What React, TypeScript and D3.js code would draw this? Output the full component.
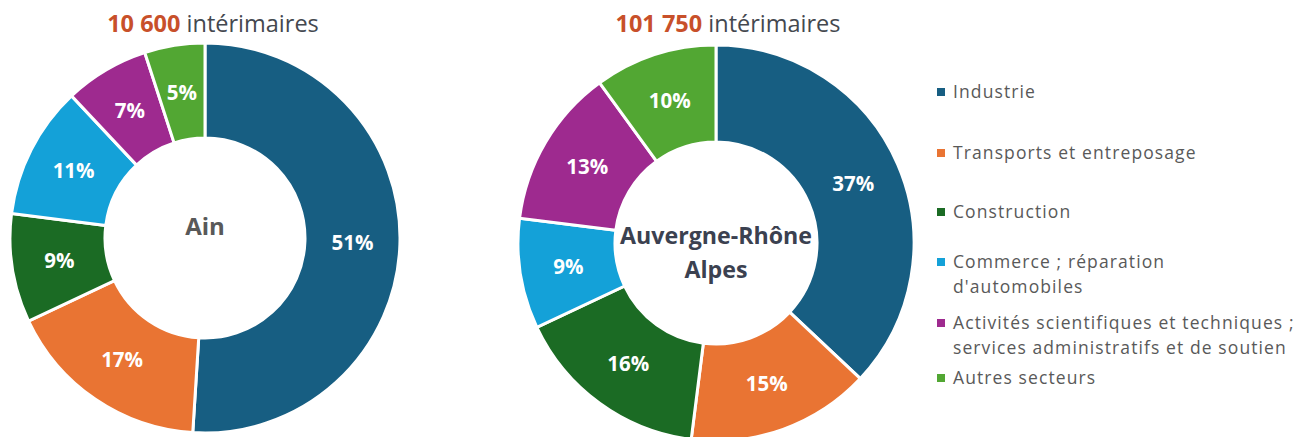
import React from "react";
import * as d3 from "d3";

// secteurs, dans l'ordre du graphique
const categories = [
    "Industrie",
    "Transports et entreposage",
    "Construction",
    "Commerce ; réparation d'automobiles",
    "Activités scientifiques et techniques ; services administratifs et de soutien",
    "Autres secteurs",
];
// lignes de la légende (coupure comme dans l'original)
const legendLines = [
    ["Industrie"],
    ["Transports et entreposage"],
    ["Construction"],
    ["Commerce ; réparation", "d'automobiles"],
    ["Activités scientifiques et techniques ;", "services administratifs et de soutien"],
    ["Autres secteurs"],
];
const colors = ["#175e82", "#e97433", "#1b6b24", "#14a1d8", "#9e2a8f", "#52a733"];

const ainValues = [51, 17, 9, 11, 7, 5];
const araValues = [37, 15, 16, 9, 13, 10];

const totals = ["10 600", "101 750"];
const centerLabels = [["Ain"], ["Auvergne-Rhône", "Alpes"]];

const FONT = "'Open Sans', 'Noto Sans', sans-serif";

type DonutProps = {
    values: number[]
    cx: number
    cy: number
    r: number
    r0: number
    total: string
    center: string[]
    centerColor: string
    centerY: number[]
    centerSize: number
    titleX: number
}

const Donut = ({values, cx, cy, r, r0, total, center, centerColor, centerY, centerSize, titleX}: DonutProps) => {
    const pie = d3.pie<number>().sort(null).value(d => d)
    const arcs = pie(values)
    const arc = d3.arc<d3.PieArcDatum<number>>().innerRadius(r0).outerRadius(r)
    const labelArc = d3.arc<d3.PieArcDatum<number>>().innerRadius((r + r0) / 2).outerRadius((r + r0) / 2)

    return (
        <g>
            <text x={titleX} y={32} textAnchor="middle" fontFamily={FONT} fontSize={23.5}>
                <tspan fill="#c8502a" fontWeight="bold">{total}</tspan>
                <tspan fill="#44484f"> intérimaires</tspan>
            </text>
            <g transform={`translate(${cx},${cy})`}>
                {arcs.map((a, i) => (
                    <path key={i} d={arc(a) as string} fill={colors[i]} stroke="#fff" strokeWidth={3}/>
                ))}
                {arcs.map((a, i) => {
                    const [x, y] = labelArc.centroid(a)
                    return (
                        <text key={"l" + i} x={x} y={y} dy="0.35em" textAnchor="middle" fill="#fff"
                              fontFamily={FONT} fontWeight="bold" fontSize={20.5}>
                            {values[i]}%
                        </text>
                    )
                })}
                {center.map((t, i) => (
                    <text key={"c" + i} x={0} y={centerY[i]} dy="0.35em"
                          textAnchor="middle" fill={centerColor} fontFamily={FONT} fontWeight="bold" fontSize={centerSize}>
                        {t}
                    </text>
                ))}
            </g>
        </g>
    )
}

const App = () => {
    const legendY = [92, 153, 212, 262, 323, 378]
    return (
        <div style={{position: "absolute", left: 0, top: 0}}>
            <svg width={1297} height={437} style={{display: "block", background: "#fff"}}>
                <Donut values={ainValues} cx={205} cy={238} r={195} r0={100} total={totals[0]}
                       center={centerLabels[0]} centerColor="#595959" centerY={[-11]} centerSize={24}
                       titleX={213}/>
                <Donut values={araValues} cx={716} cy={243} r={198} r0={101} total={totals[1]}
                       center={centerLabels[1]} centerColor="#3b4150" centerY={[-7, 27]} centerSize={23.2}
                       titleX={728}/>
                <g>
                    {categories.map((c, i) => (
                        <g key={c}>
                            <rect x={937} y={legendY[i] - 4} width={8} height={8} fill={colors[i]}/>
                            {legendLines[i].map((line, j) => (
                                <text key={j} x={953} y={legendY[i] + j * 25} dy="0.35em" fill="#595959"
                                      fontFamily={FONT} fontSize={17.5} letterSpacing={1.1}>
                                    {line}
                                </text>
                            ))}
                        </g>
                    ))}
                </g>
            </svg>
        </div>
    )
}

export default App;
